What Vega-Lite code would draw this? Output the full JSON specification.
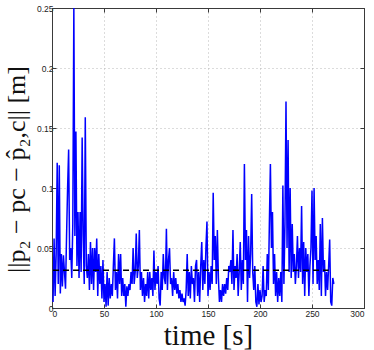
{
  "$schema": "https://vega.github.io/schema/vega-lite/v6.json",
  "width": 312,
  "height": 300,
  "autosize": "none",
  "padding": {"left": 52, "top": 8, "right": 10, "bottom": 42},
  "background": "white",
  "config": {
    "view": {"stroke": "#3a3a3a", "strokeWidth": 1},
    "axis": {
      "labelFont": "Liberation Sans",
      "labelFontSize": 8.5,
      "labelColor": "#222222",
      "domainColor": "#3a3a3a",
      "tickColor": "#3a3a3a",
      "gridColor": "#b8b8b8",
      "gridDash": [1, 3],
      "gridWidth": 1,
      "titleFont": "Liberation Serif",
      "titleFontWeight": "normal",
      "titleColor": "#111111"
    }
  },
  "datasets": {
    "err": [
      {"t":1,"e":0.005},{"t":2,"e":0.058},{"t":3,"e":0.01},{"t":4,"e":0.045},{"t":5,"e":0.121},{"t":6,"e":0.02},{"t":7,"e":0.119},{"t":8,"e":0.012},{"t":9,"e":0.045},{"t":10,"e":0.018},
      {"t":11,"e":0.044},{"t":12,"e":0.03},{"t":13,"e":0.016},{"t":14,"e":0.06},{"t":15,"e":0.1},{"t":16,"e":0.132},{"t":17,"e":0.04},{"t":18,"e":0.05},{"t":19,"e":0.025},{"t":20,"e":0.07},
      {"t":21,"e":0.25},{"t":22,"e":0.06},{"t":23,"e":0.147},{"t":24,"e":0.035},{"t":25,"e":0.08},{"t":26,"e":0.025},{"t":27,"e":0.08},{"t":28,"e":0.03},{"t":29,"e":0.142},{"t":30,"e":0.06},
      {"t":31,"e":0.02},{"t":32,"e":0.159},{"t":33,"e":0.035},{"t":34,"e":0.025},{"t":35,"e":0.045},{"t":36,"e":0.015},{"t":37,"e":0.055},{"t":38,"e":0.02},{"t":39,"e":0.05},{"t":40,"e":0.015},
      {"t":41,"e":0.05},{"t":42,"e":0.03},{"t":43,"e":0.058},{"t":44,"e":0.01},{"t":45,"e":0.045},{"t":46,"e":0.02},{"t":47,"e":0.035},{"t":48,"e":0.008},{"t":49,"e":0.04},{"t":50,"e":0.005},
      {"t":51,"e":0.02},{"t":52,"e":0.001},{"t":53,"e":0.03},{"t":54,"e":0.002},{"t":55,"e":0.025},{"t":56,"e":0.008},{"t":57,"e":0.02},{"t":58,"e":0.01},{"t":59,"e":0.035},{"t":60,"e":0.058},
      {"t":61,"e":0.015},{"t":62,"e":0.03},{"t":63,"e":0.008},{"t":64,"e":0.045},{"t":65,"e":0.02},{"t":66,"e":0.045},{"t":67,"e":0.01},{"t":68,"e":0.025},{"t":69,"e":0.01},{"t":70,"e":0.02},
      {"t":71,"e":0.001},{"t":72,"e":0.018},{"t":73,"e":0.01},{"t":74,"e":0.02},{"t":75,"e":0.015},{"t":76,"e":0.03},{"t":77,"e":0.02},{"t":78,"e":0.05},{"t":79,"e":0.02},{"t":80,"e":0.03},
      {"t":81,"e":0.062},{"t":82,"e":0.025},{"t":83,"e":0.035},{"t":84,"e":0.065},{"t":85,"e":0.015},{"t":86,"e":0.03},{"t":87,"e":0.01},{"t":88,"e":0.025},{"t":89,"e":0.005},{"t":90,"e":0.02},
      {"t":91,"e":0.01},{"t":92,"e":0.03},{"t":93,"e":0.008},{"t":94,"e":0.03},{"t":95,"e":0.015},{"t":96,"e":0.025},{"t":97,"e":0.01},{"t":98,"e":0.048},{"t":99,"e":0.015},{"t":100,"e":0.03},
      {"t":101,"e":0.02},{"t":102,"e":0.035},{"t":103,"e":0.008},{"t":104,"e":0.002},{"t":105,"e":0.03},{"t":106,"e":0.015},{"t":107,"e":0.045},{"t":108,"e":0.025},{"t":109,"e":0.02},{"t":110,"e":0.066},
      {"t":111,"e":0.015},{"t":112,"e":0.04},{"t":113,"e":0.05},{"t":114,"e":0.02},{"t":115,"e":0.025},{"t":116,"e":0.01},{"t":117,"e":0.03},{"t":118,"e":0.015},{"t":119,"e":0.025},{"t":120,"e":0.012},
      {"t":121,"e":0.02},{"t":122,"e":0.008},{"t":123,"e":0.015},{"t":124,"e":0.005},{"t":125,"e":0.012},{"t":126,"e":0.005},{"t":127,"e":0.008},{"t":128,"e":0.002},{"t":129,"e":0.015},{"t":130,"e":0.045},
      {"t":131,"e":0.01},{"t":132,"e":0.03},{"t":133,"e":0.008},{"t":134,"e":0.035},{"t":135,"e":0.02},{"t":136,"e":0.025},{"t":137,"e":0.005},{"t":138,"e":0.035},{"t":139,"e":0.04},{"t":140,"e":0.01},
      {"t":141,"e":0.03},{"t":142,"e":0.005},{"t":143,"e":0.035},{"t":144,"e":0.055},{"t":145,"e":0.015},{"t":146,"e":0.04},{"t":147,"e":0.02},{"t":148,"e":0.05},{"t":149,"e":0.072},{"t":150,"e":0.01},
      {"t":151,"e":0.03},{"t":152,"e":0.015},{"t":153,"e":0.035},{"t":154,"e":0.02},{"t":155,"e":0.096},{"t":156,"e":0.04},{"t":157,"e":0.06},{"t":158,"e":0.02},{"t":159,"e":0.065},{"t":160,"e":0.025},
      {"t":161,"e":0.005},{"t":162,"e":0.015},{"t":163,"e":0.005},{"t":164,"e":0.02},{"t":165,"e":0.01},{"t":166,"e":0.02},{"t":167,"e":0.012},{"t":168,"e":0.025},{"t":169,"e":0.015},{"t":170,"e":0.035},
      {"t":171,"e":0.03},{"t":172,"e":0.04},{"t":173,"e":0.02},{"t":174,"e":0.065},{"t":175,"e":0.015},{"t":176,"e":0.035},{"t":177,"e":0.025},{"t":178,"e":0.045},{"t":179,"e":0.01},{"t":180,"e":0.03},
      {"t":181,"e":0.055},{"t":182,"e":0.015},{"t":183,"e":0.04},{"t":184,"e":0.02},{"t":185,"e":0.12},{"t":186,"e":0.04},{"t":187,"e":0.065},{"t":188,"e":0.005},{"t":189,"e":0.06},{"t":190,"e":0.025},
      {"t":191,"e":0.045},{"t":192,"e":0.095},{"t":193,"e":0.03},{"t":194,"e":0.015},{"t":195,"e":0.035},{"t":196,"e":0.005},{"t":197,"e":0.001},{"t":198,"e":0.02},{"t":199,"e":0.003},{"t":200,"e":0.015},
      {"t":201,"e":0.005},{"t":202,"e":0.01},{"t":203,"e":0.035},{"t":204,"e":0.005},{"t":205,"e":0.015},{"t":206,"e":0.01},{"t":207,"e":0.045},{"t":208,"e":0.015},{"t":209,"e":0.07},{"t":210,"e":0.12},
      {"t":211,"e":0.05},{"t":212,"e":0.08},{"t":213,"e":0.02},{"t":214,"e":0.045},{"t":215,"e":0.01},{"t":216,"e":0.03},{"t":217,"e":0.005},{"t":218,"e":0.025},{"t":219,"e":0.01},{"t":220,"e":0.03},
      {"t":221,"e":0.005},{"t":222,"e":0.102},{"t":223,"e":0.02},{"t":224,"e":0.07},{"t":225,"e":0.172},{"t":226,"e":0.05},{"t":227,"e":0.14},{"t":228,"e":0.03},{"t":229,"e":0.1},{"t":230,"e":0.025},
      {"t":231,"e":0.07},{"t":232,"e":0.03},{"t":233,"e":0.045},{"t":234,"e":0.02},{"t":235,"e":0.035},{"t":236,"e":0.06},{"t":237,"e":0.025},{"t":238,"e":0.05},{"t":239,"e":0.03},{"t":240,"e":0.085},
      {"t":241,"e":0.02},{"t":242,"e":0.055},{"t":243,"e":0.01},{"t":244,"e":0.05},{"t":245,"e":0.03},{"t":246,"e":0.045},{"t":247,"e":0.01},{"t":248,"e":0.035},{"t":249,"e":0.05},{"t":250,"e":0.098},
      {"t":251,"e":0.02},{"t":252,"e":0.1},{"t":253,"e":0.04},{"t":254,"e":0.06},{"t":255,"e":0.02},{"t":256,"e":0.04},{"t":257,"e":0.015},{"t":258,"e":0.07},{"t":259,"e":0.01},{"t":260,"e":0.075},
      {"t":261,"e":0.03},{"t":262,"e":0.04},{"t":263,"e":0.01},{"t":264,"e":0.03},{"t":265,"e":0.015},{"t":266,"e":0.035},{"t":267,"e":0.057},{"t":268,"e":0.005},{"t":269,"e":0.002},{"t":270,"e":0.025},
      {"t":271,"e":0.02}
    ],
    "mean": [{"t0": 1, "t1": 266, "m": 0.0314}]
  },
  "layer": [
    {
      "data": {"name": "err"},
      "mark": {"type": "line", "color": "#0000ff", "strokeWidth": 1.5, "clip": true},
      "encoding": {
        "x": {
          "field": "t", "type": "quantitative",
          "scale": {"domain": [0, 300], "nice": false, "zero": false},
          "axis": {
            "orient": "bottom", "values": [0, 50, 100, 150, 200, 250, 300],
            "tickSize": -4, "labelPadding": 5, "grid": true,
            "title": "time [s]", "titleFontSize": 29,
            "titleBaseline": "alphabetic", "titleY": 36
          }
        },
        "y": {
          "field": "e", "type": "quantitative",
          "scale": {"domain": [0, 0.25], "nice": false},
          "axis": {
            "orient": "left", "values": [0, 0.05, 0.1, 0.15, 0.2, 0.25], "format": ".2~f",
            "tickSize": -4, "labelPadding": 3, "grid": true,
            "title": "||p₂ − pc − p̂₂,c|| [m]", "titleFontSize": 26, "titleAngle": -90,
            "titleBaseline": "alphabetic", "titleAlign": "center", "titleX": -28, "titleY": 161
          }
        }
      }
    },
    {
      "data": {"name": "mean"},
      "mark": {"type": "rule", "color": "#000000", "strokeWidth": 1.5, "strokeDash": [6, 4]},
      "encoding": {
        "x": {"field": "t0", "type": "quantitative",
          "axis": {"orient": "top", "values": [0, 50, 100, 150, 200, 250, 300], "tickSize": -4, "labels": false, "grid": false, "title": null}},
        "x2": {"field": "t1"},
        "y": {"field": "m", "type": "quantitative",
          "axis": {"orient": "right", "values": [0, 0.05, 0.1, 0.15, 0.2, 0.25], "tickSize": -4, "labels": false, "grid": false, "title": null}}
      }
    }
  ],
  "resolve": {"axis": {"x": "independent", "y": "independent"}}
}
